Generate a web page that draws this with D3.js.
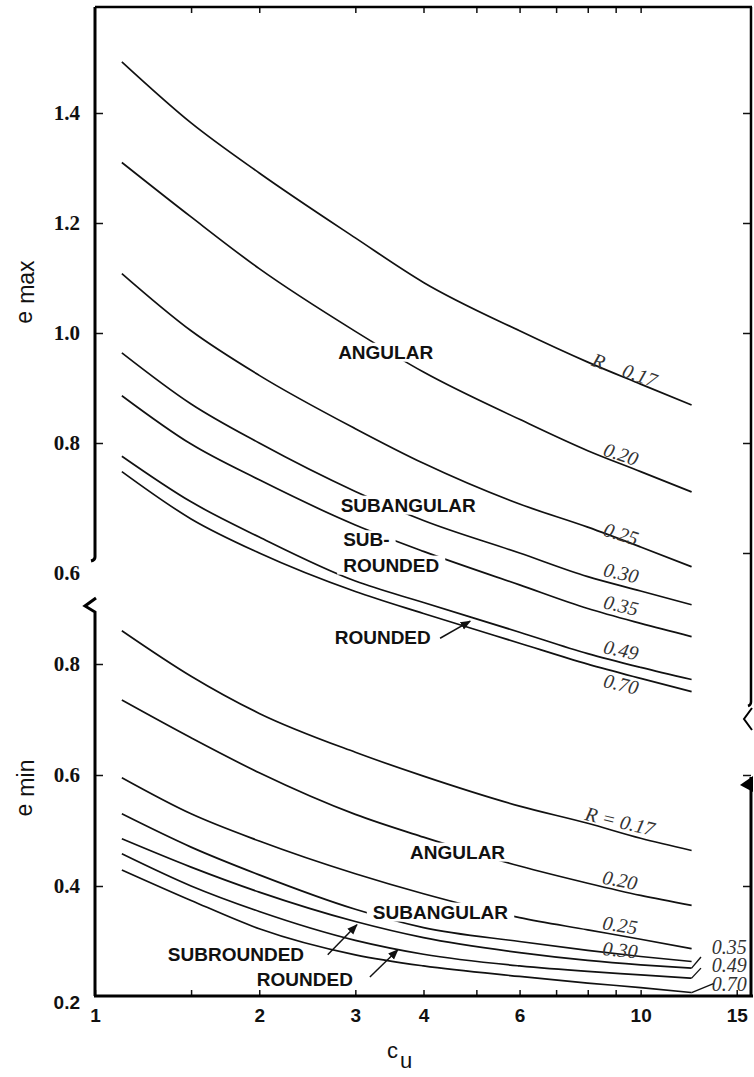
<!DOCTYPE html>
<html>
<head>
<meta charset="utf-8">
<script src="https://cdn.jsdelivr.net/npm/d3@7"></script>
<style>
  body { margin: 0; background: #fff; }
  svg { display: block; }
</style>
</head>
<body>
<script>
// ---- data (cu, e) ----
const cuGrid = [1.12, 1.5, 2, 3, 4, 6, 8, 10, 12.4];
const rValues = ["0.17", "0.20", "0.25", "0.30", "0.35", "0.49", "0.70"];

// e max curves, one per roundness R
const eMax017 = [1.493, 1.382, 1.291, 1.173, 1.092, 1.004, 0.947, 0.907, 0.869];
const eMax020 = [1.310, 1.211, 1.117, 1.003, 0.929, 0.843, 0.786, 0.748, 0.711];
const eMax025 = [1.108, 1.004, 0.923, 0.826, 0.763, 0.689, 0.647, 0.611, 0.575];
const eMax030 = [0.964, 0.871, 0.800, 0.712, 0.659, 0.600, 0.557, 0.531, 0.506];
const eMax035 = [0.886, 0.798, 0.733, 0.651, 0.603, 0.542, 0.499, 0.472, 0.448];
const eMax049 = [0.776, 0.693, 0.629, 0.549, 0.510, 0.456, 0.417, 0.392, 0.370];
const eMax070 = [0.748, 0.662, 0.600, 0.530, 0.490, 0.436, 0.398, 0.372, 0.348];

// e min curves
const eMin017 = [0.860, 0.778, 0.711, 0.641, 0.598, 0.544, 0.513, 0.486, 0.464];
const eMin020 = [0.735, 0.667, 0.604, 0.529, 0.488, 0.436, 0.405, 0.383, 0.365];
const eMin025 = [0.595, 0.530, 0.481, 0.422, 0.386, 0.343, 0.321, 0.304, 0.287];
const eMin030 = [0.530, 0.470, 0.420, 0.358, 0.325, 0.300, 0.284, 0.273, 0.264];
const eMin035 = [0.485, 0.434, 0.389, 0.336, 0.307, 0.280, 0.266, 0.258, 0.252];
const eMin049 = [0.458, 0.400, 0.354, 0.302, 0.277, 0.256, 0.246, 0.240, 0.234];
const eMin070 = [0.429, 0.374, 0.323, 0.276, 0.256, 0.237, 0.225, 0.217, 0.208];

const eMaxSeries = [eMax017, eMax020, eMax025, eMax030, eMax035, eMax049, eMax070];
const eMinSeries = [eMin017, eMin020, eMin025, eMin030, eMin035, eMin049, eMin070];

// ticks
const xTicks = [1, 1.5, 2, 3, 4, 5, 6, 7, 8, 9, 10, 15];
const xTickLabels = [1, 2, 3, 4, 6, 10, 15];
const yMaxTicks = [0.6, 0.8, 1.0, 1.2, 1.4];
const yMinTicks = [0.2, 0.4, 0.6, 0.8];

// text annotations: [text, cu, e]
const shapeLabelsMax = [["ANGULAR", 2.79, 0.965], ["SUBANGULAR", 2.82, 0.687], ["SUB-", 2.85, 0.624],
                        ["ROUNDED", 2.85, 0.578], ["ROUNDED", 2.75, 0.447]];
const shapeLabelsMin = [["ANGULAR", 3.78, 0.461], ["SUBANGULAR", 3.23, 0.353],
                        ["SUBROUNDED", 1.36, 0.276], ["ROUNDED", 1.98, 0.231]];
const rLabelPosMax = [[9.35, 0.933], [9.21, 0.780], [9.21, 0.635], [9.21, 0.564], [9.21, 0.505], [9.21, 0.424], [9.21, 0.362]];
const rLabelPosMin = [[9.17, 0.517], [9.17, 0.411], [9.17, 0.330], [9.17, 0.285], [13.5, 0.290], [13.5, 0.258], [13.5, 0.223]];
// arrows [from cu, from e, to cu, to e]
const arrowsMax = [[4.29, 0.445, 4.87, 0.476]];
const arrowsMin = [[2.67, 0.276, 3.02, 0.330], [3.19, 0.236, 3.59, 0.285]];
// leader hooks from curve end to right-hand labels (R index, cu, e)
const hooksMin = [[4, 12.9, 0.272], [5, 12.9, 0.252], [6, 13.6, 0.224]];

// ---- layout ----
const W = 754, H = 1077;
const plotTop = 7;
const sans = "'Liberation Sans', Arial, sans-serif";
const serif = "'Liberation Serif', 'Times New Roman', serif";

const svg = d3.select("body").append("svg").attr("width", W).attr("height", H);

const x = d3.scaleLog().domain([1, 16]).range([95, 752]);
const yMax = d3.scaleLinear().domain([0.6, 1.4]).range([553, 113]);
const yMin = d3.scaleLinear().domain([0.2, 0.8]).range([997, 664]);

const pLeft = x.range()[0], pRight = x.range()[1] - 1, pBottom = yMin(0.2) - 1;

// ---- curves ----
const curvesG = svg.append("g");
function drawCurves(series, yScale) {
    const line = d3.line().x(d => x(d[0])).y(d => yScale(d[1])).curve(d3.curveMonotoneX);
    series.forEach(vals => {
        curvesG.append("path")
            .attr("d", line(cuGrid.map((c, i) => [c, vals[i]])))
            .attr("fill", "none").attr("stroke", "#111").attr("stroke-width", 1.7);
    });
}
drawCurves(eMaxSeries, yMax);
drawCurves(eMinSeries, yMin);

// ---- knockouts + shape labels ----
const knockG = svg.append("g");
const labelG = svg.append("g");
function shapeLabels(list, yScale) {
    list.forEach(([t, c, e]) => {
        const txt = labelG.append("text")
            .attr("x", x(c)).attr("y", yScale(e))
            .attr("dominant-baseline", "central")
            .attr("font-family", sans).attr("font-weight", "bold").attr("font-size", 19)
            .attr("fill", "#111").text(t);
        const b = txt.node().getBBox();
        knockG.append("rect").attr("x", b.x - 6).attr("y", b.y + 1).attr("width", b.width + 12)
            .attr("height", b.height - 2).attr("fill", "#fff");
    });
}
shapeLabels(shapeLabelsMax, yMax);
shapeLabels(shapeLabelsMin, yMin);

// ---- R value labels, rotated along the curve ----
function slopeAngle(vals, yScale, c) {
    let i = d3.bisectRight(cuGrid, c) - 1;
    i = Math.max(0, Math.min(cuGrid.length - 2, i));
    const dx = x(cuGrid[i + 1]) - x(cuGrid[i]);
    const dy = yScale(vals[i + 1]) - yScale(vals[i]);
    return Math.atan2(dy, dx) * 180 / Math.PI;
}
function rLabels(pos, series, yScale, texts, rotateUpTo) {
    pos.forEach(([c, e], i) => {
        const px = x(c), py = yScale(e);
        const ang = i < rotateUpTo ? slopeAngle(series[i], yScale, c) * 0.85 : 0;
        labelG.append("text")
            .attr("transform", `translate(${px},${py}) rotate(${ang})`)
            .attr("text-anchor", i < rotateUpTo ? "middle" : "start")
            .attr("dominant-baseline", "central")
            .attr("font-family", serif).attr("font-style", "italic").attr("font-size", 20)
            .attr("fill", "#333").text(texts[i]);
    });
}
rLabels(rLabelPosMax, eMaxSeries, yMax, ["R\u00a0\u00a0\u00a0\u00a00.17"].concat(rValues.slice(1)), 7);
rLabels(rLabelPosMin, eMinSeries, yMin, ["R = 0.17"].concat(rValues.slice(1)), 4);

// ---- arrows and hooks ----
const defs = svg.append("defs");
defs.append("marker").attr("id", "ah").attr("viewBox", "0 0 10 10").attr("refX", 9).attr("refY", 5)
    .attr("markerWidth", 7).attr("markerHeight", 7).attr("orient", "auto")
    .append("path").attr("d", "M0,1 L10,5 L0,9 Z").attr("fill", "#111");
function arrows(list, yScale) {
    list.forEach(([c0, e0, c1, e1]) => {
        svg.append("line").attr("x1", x(c0)).attr("y1", yScale(e0)).attr("x2", x(c1)).attr("y2", yScale(e1))
            .attr("stroke", "#111").attr("stroke-width", 1.5).attr("marker-end", "url(#ah)");
    });
}
arrows(arrowsMax, yMax);
arrows(arrowsMin, yMin);
hooksMin.forEach(([k, c, e]) => {
    const last = cuGrid.length - 1;
    svg.append("path")
        .attr("d", `M${x(cuGrid[last])},${yMin(eMinSeries[k][last])} L${x(c)},${yMin(e)}`)
        .attr("fill", "none").attr("stroke", "#111").attr("stroke-width", 1.4);
});

// ---- axes ----
const xAxis = svg.append("g").attr("transform", `translate(0,${pBottom})`)
    .call(d3.axisBottom(x).tickValues(xTicks).tickSizeInner(-6).tickSizeOuter(0).tickPadding(13)
        .tickFormat(v => xTickLabels.includes(v) ? String(v) : ""));
xAxis.select(".domain").remove();
xAxis.selectAll("text").attr("font-family", sans).attr("font-weight", "bold").attr("font-size", 19).attr("fill", "#111");
xAxis.selectAll("line").attr("stroke", "#111").attr("stroke-width", 1.5);

const topAxis = svg.append("g").attr("transform", `translate(0,${plotTop})`)
    .call(d3.axisTop(x).tickValues(xTicks.filter(v => v > 1 && v < 15)).tickSizeInner(-6).tickSizeOuter(0).tickFormat(""));
topAxis.select(".domain").remove();
topAxis.selectAll("line").attr("stroke", "#111").attr("stroke-width", 1.5);

function leftAxis(scale, ticks) {
    const g = svg.append("g").attr("transform", `translate(${pLeft},0)`)
        .call(d3.axisLeft(scale).tickValues(ticks).tickSizeInner(-8).tickSizeOuter(0).tickPadding(15)
            .tickFormat(d3.format(".1f")));
    g.select(".domain").remove();
    g.selectAll("text").attr("font-family", serif).attr("font-weight", "bold").attr("font-size", 21).attr("fill", "#111");
    g.selectAll("line").attr("stroke", "#111").attr("stroke-width", 1.5);
    return g;
}
const la1 = leftAxis(yMax, yMaxTicks);
la1.selectAll(".tick").filter(d => d === 0.6).select("line").remove();
la1.selectAll(".tick").filter(d => d === 0.6).select("text").attr("dy", "1.28em");
const la2 = leftAxis(yMin, yMinTicks);
la2.selectAll(".tick").filter(d => d === 0.2).select("line").remove();
la2.selectAll(".tick").filter(d => d === 0.2).select("text").attr("dy", "0.6em").attr("font-family", sans).attr("font-size", 19);

function rightAxis(scale, ticks) {
    const g = svg.append("g").attr("transform", `translate(${pRight},0)`)
        .call(d3.axisRight(scale).tickValues(ticks).tickSizeInner(-8).tickSizeOuter(0).tickFormat(""));
    g.select(".domain").remove();
    g.selectAll("line").attr("stroke", "#111").attr("stroke-width", 1.5);
}
rightAxis(yMax, yMaxTicks);
rightAxis(yMin, [0.4, 0.6]);

// frame with the broken scale marks
const frame = svg.append("g").attr("fill", "none").attr("stroke", "#000");
frame.append("path").attr("d", `M${pLeft},${plotTop} H${pRight + 1}`).attr("stroke-width", 2.5);
frame.append("path").attr("d", `M${pLeft - 1},${pBottom} H${pRight + 2}`).attr("stroke-width", 3);
frame.append("path").attr("d", `M${pLeft},${plotTop} V557 Q${pLeft},560 ${pLeft - 4},561`).attr("stroke-width", 3);
frame.append("path").attr("d", `M${pLeft + 1},598 L${pLeft - 10},606 L${pLeft},612 V${pBottom}`).attr("stroke-width", 3);
frame.append("path").attr("d", `M${pRight},${plotTop} V702 Q${pRight},705 ${pRight - 3},706`).attr("stroke-width", 2.5);
frame.append("path").attr("d", `M${pRight + 1},708 L${pRight - 7},719 L${pRight + 1},730`).attr("stroke-width", 2);
frame.append("path").attr("d", `M${pRight},777 V${pBottom}`).attr("stroke-width", 3);
svg.append("path").attr("d", `M${pRight + 2},776 L${pRight - 11},785 L${pRight + 2},792 Z`).attr("fill", "#000");

// ---- axis titles ----
const emax = svg.append("text").attr("transform", "translate(32,292) rotate(-90)")
    .attr("text-anchor", "middle").attr("font-family", sans).attr("font-size", 23).attr("fill", "#111");
emax.append("tspan").text("e");
emax.append("tspan").attr("dx", 7).attr("dy", 2).text("max");
const emin = svg.append("text").attr("transform", "translate(32,788) rotate(-90)")
    .attr("text-anchor", "middle").attr("font-family", sans).attr("font-size", 23).attr("fill", "#111");
emin.append("tspan").text("e");
emin.append("tspan").attr("dx", 7).attr("dy", 2).text("min");
const cuT = svg.append("text").attr("x", 387).attr("y", 1058)
    .attr("font-family", sans).attr("font-size", 22).attr("fill", "#111");
cuT.append("tspan").text("c");
cuT.append("tspan").attr("dx", 2).attr("dy", 10).text("u");
</script>
</body>
</html>
